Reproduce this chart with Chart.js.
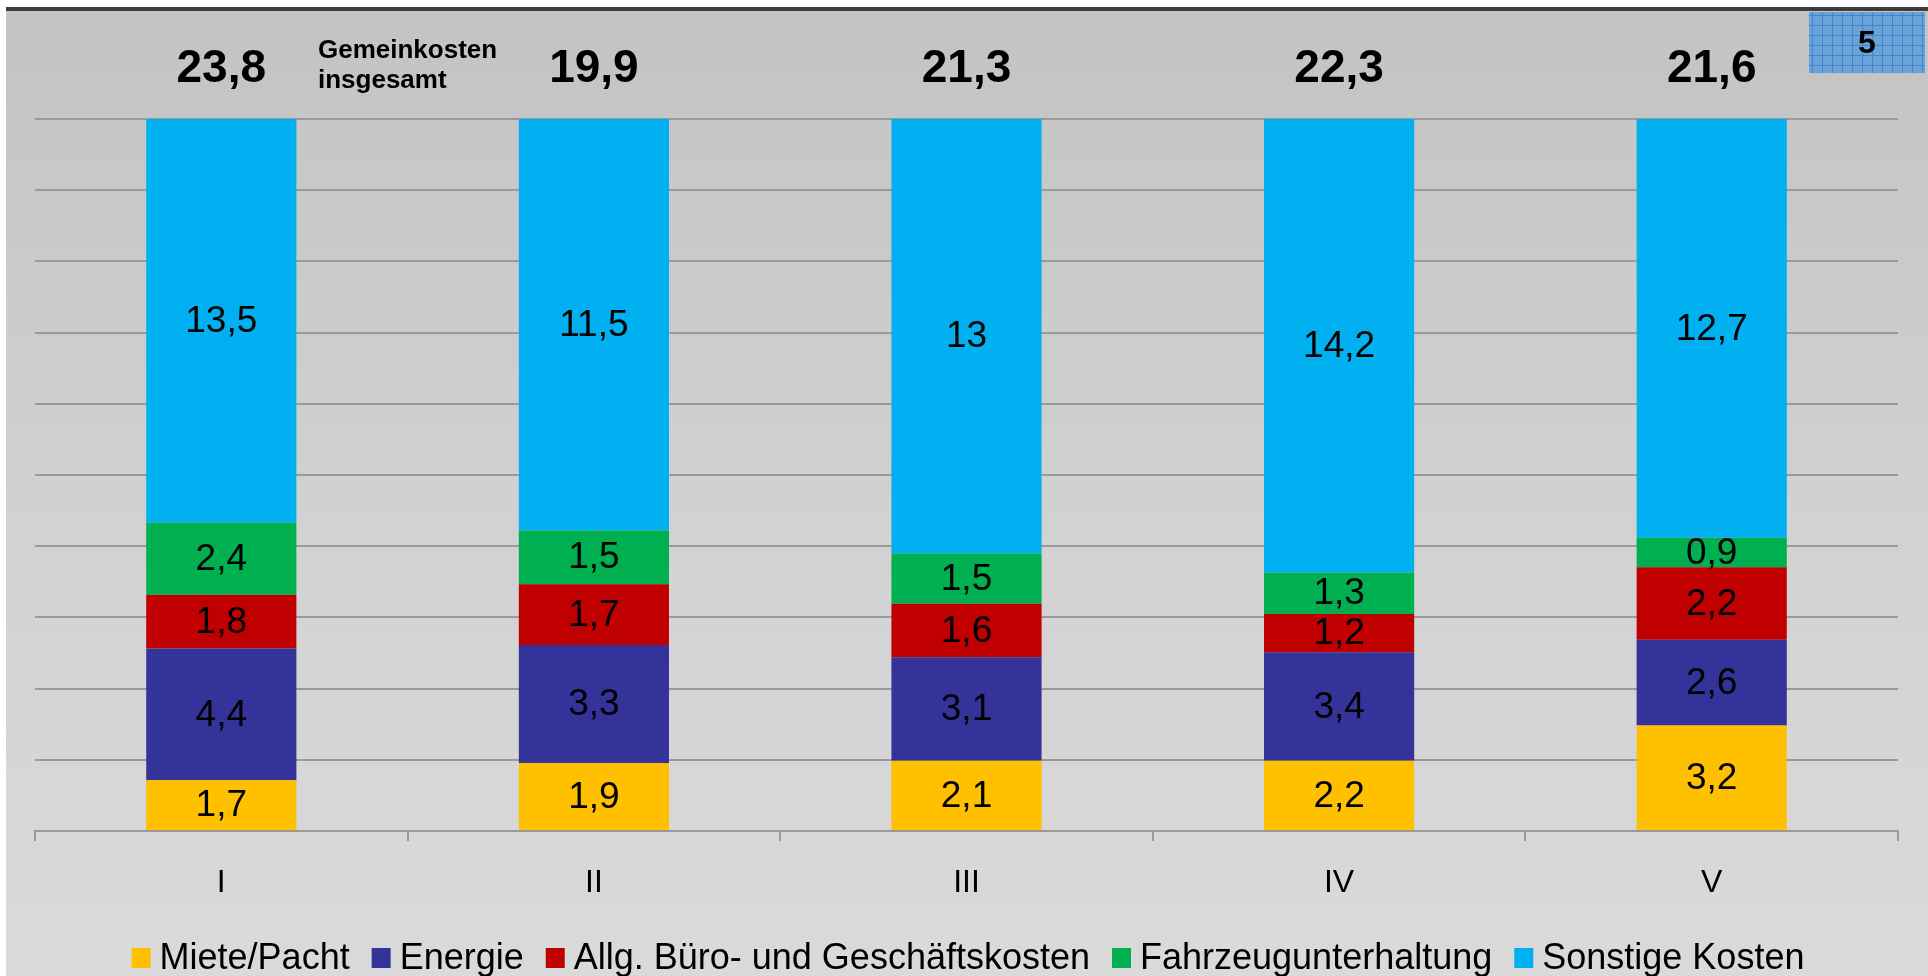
<!DOCTYPE html>
<html>
<head>
<meta charset="utf-8">
<script src="https://cdn.jsdelivr.net/npm/chart.js@4/dist/chart.umd.min.js"></script>
<style>
  html, body { margin: 0; padding: 0; background: #fff; }
</style>
</head>
<body>
<canvas id="myChart" width="1928" height="976"></canvas>
<script>
// data //
const groups = ['I', 'II', 'III', 'IV', 'V'];
const totals = [23.8, 19.9, 21.3, 22.3, 21.6];
const miete = [1.7, 1.9, 2.1, 2.2, 3.2];
const energie = [4.4, 3.3, 3.1, 3.4, 2.6];
const buero = [1.8, 1.7, 1.6, 1.2, 2.2];
const fahrzeug = [2.4, 1.5, 1.5, 1.3, 0.9];
const sonstige = [13.5, 11.5, 13, 14.2, 12.7];
const seriesNames = ['Miete/Pacht', 'Energie', 'Allg. Büro- und Geschäftskosten', 'Fahrzeugunterhaltung', 'Sonstige Kosten'];
const seriesColors = ['#FFC000', '#333399', '#C00000', '#00B050', '#00B0F0'];
const totalsCaption = ['Gemeinkosten', 'insgesamt'];
const pageNumber = '5';

const FONT = '"Liberation Sans", Arial, sans-serif';

// 100% gestapelt: Anteil am Gesamtwert der Gruppe
function share(values) {
    return values.map((v, i) => v / totals[i] * 100);
}

function deNum(v) {
    return v.toLocaleString('de-DE');
}

const rawSeries = [miete, energie, buero, fahrzeug, sonstige];

// plugins //
const backdrop = {
    id: 'backdrop',
    beforeDraw(chart) {
        const c = chart.ctx;
        const w = chart.width, h = chart.height;
        c.save();
        c.fillStyle = '#ffffff';
        c.fillRect(0, 0, w, h);
        let g = c.createLinearGradient(0, 11, 0, h);
        g.addColorStop(0, '#c3c3c3');
        g.addColorStop(0.55, '#d2d2d2');
        g.addColorStop(1, '#dadada');
        c.fillStyle = g;
        c.fillRect(6, 11, w - 6, h - 11);
        c.fillStyle = '#3c3c3c';
        c.fillRect(6, 7, w - 6, 4);
        c.restore();
    }
};

const segmentLabels = {
    id: 'segmentLabels',
    afterDatasetsDraw(chart) {
        const c = chart.ctx;
        c.save();
        c.font = '37px ' + FONT;
        c.fillStyle = '#000';
        c.textAlign = 'center';
        c.textBaseline = 'middle';
        chart.data.datasets.forEach((ds, di) => {
            chart.getDatasetMeta(di).data.forEach((bar, i) => {
                const y = (bar.y + bar.base) / 2;
                c.fillText(deNum(rawSeries[di][i]), bar.x, y + 1);
            });
        });
        c.restore();
    }
};

// eigene Legende, damit die Abstaende stimmen
const bottomLegend = {
    id: 'bottomLegend',
    afterDraw(chart) {
        const c = chart.ctx;
        c.save();
        c.font = '36px ' + FONT;
        const box = 19, gap = 9, spacing = 22;
        let widths = seriesNames.map(n => c.measureText(n).width);
        let total = widths.reduce((a, b) => a + b, 0) + seriesNames.length * (box + gap) + (seriesNames.length - 1) * spacing;
        let x = 968 - total / 2;
        const yMid = 958;
        c.textBaseline = 'middle';
        c.textAlign = 'left';
        seriesNames.forEach((n, i) => {
            c.fillStyle = seriesColors[i];
            c.fillRect(x, yMid - 10, box, 20);
            x += box + gap;
            c.fillStyle = '#000';
            c.fillText(n, x, yMid + 1);
            x += widths[i] + spacing;
        });
        c.restore();
    }
};

const header = {
    id: 'header',
    afterDraw(chart) {
        const c = chart.ctx;
        const meta = chart.getDatasetMeta(0);
        c.save();
        c.fillStyle = '#000';
        c.textAlign = 'center';
        c.textBaseline = 'middle';
        c.font = 'bold 46px ' + FONT;
        meta.data.forEach((bar, i) => {
            c.fillText(deNum(totals[i]), bar.x, 69);
        });

        c.textAlign = 'left';
        c.textBaseline = 'alphabetic';
        c.font = 'bold 26px ' + FONT;
        c.fillText(totalsCaption[0], 318, 58);
        c.fillText(totalsCaption[1], 318, 88);

        // kleines Kaestchen mit Seitenzahl
        const bx = 1809, by = 12, bw = 116, bh = 61;
        c.fillStyle = '#69a3d8';
        c.fillRect(bx, by, bw, bh);
        c.strokeStyle = '#3f86cc';
        c.lineWidth = 1;
        for (let x = bx + 3; x < bx + bw; x += 10) {
            c.beginPath(); c.moveTo(x + 0.5, by); c.lineTo(x + 0.5, by + bh); c.stroke();
        }
        for (let y = by + 3; y < by + bh; y += 10) {
            c.beginPath(); c.moveTo(bx, y + 0.5); c.lineTo(bx + bw, y + 0.5); c.stroke();
        }
        c.fillStyle = '#000';
        c.textAlign = 'center';
        c.textBaseline = 'middle';
        c.font = 'bold 32px ' + FONT;
        c.fillText(pageNumber, 1867, 44);
        c.restore();
    }
};

// chart //
const ctx = document.getElementById('myChart').getContext('2d');
const myChart = new Chart(ctx, {
    type: 'bar',
    data: {
        labels: groups,
        datasets: rawSeries.map((arr, i) => ({
            label: seriesNames[i],
            data: share(arr),
            backgroundColor: seriesColors[i],
            borderWidth: 0,
            categoryPercentage: 1,
            barPercentage: 0.403
        }))
    },
    options: {
        responsive: false,
        animation: false,
        devicePixelRatio: 1,
        layout: { padding: { top: 119, left: 35, right: 30, bottom: 57 } },
        plugins: {
            tooltip: { enabled: false },
            legend: { display: false }
        },
        scales: {
            x: {
                stacked: true,
                grid: { offset: true, drawOnChartArea: false, drawTicks: true, tickLength: 10, color: '#9a9a9a', lineWidth: 2 },
                border: { color: '#9a9a9a', width: 2 },
                ticks: { color: '#000', font: { size: 32, family: FONT }, padding: 23 },
                afterFit: s => { s.height = 88; }
            },
            y: {
                stacked: true,
                min: 0,
                max: 100,
                ticks: { display: false, stepSize: 10 },
                grid: { color: '#9a9a9a', lineWidth: 2, drawTicks: false },
                border: { display: false },
                afterFit: s => { s.width = 0; }
            }
        }
    },
    plugins: [backdrop, segmentLabels, header, bottomLegend]
});
</script>
</body>
</html>
